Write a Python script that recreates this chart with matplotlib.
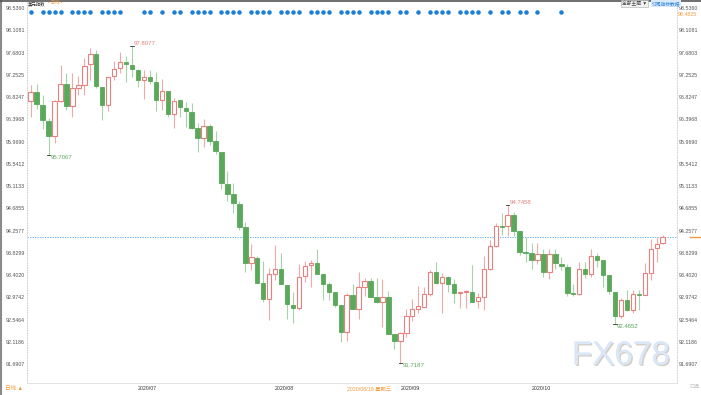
import matplotlib
matplotlib.use("Agg")
import matplotlib.pyplot as plt
import matplotlib.patheffects as pe
from matplotlib.patches import Rectangle
from matplotlib.lines import Line2D
from matplotlib.transforms import blended_transform_factory

plt.rcParams['font.family'] = ['Liberation Sans', 'Noto Sans CJK SC', 'DejaVu Sans']

# daily candles
opens = [96.749, 96.928, 96.678, 96.371, 96.077, 96.749, 97.076, 96.653, 96.993, 97.057,
         97.454, 97.652, 97.024, 96.672, 97.224, 97.383, 97.493, 97.447, 97.345, 97.153,
         97.205, 97.120, 96.769, 96.947, 96.494, 96.769, 96.615, 96.544, 96.225, 96.033,
         96.275, 95.981, 95.775, 95.155, 94.957, 94.770, 94.323, 93.631, 93.739, 93.247,
         92.940, 93.420, 93.516, 93.214, 92.830, 92.767, 93.387, 93.599, 93.631, 93.420,
         93.228, 93.086, 92.824, 92.306, 93.016, 92.748, 93.182, 93.285, 92.984, 92.882,
         92.990, 92.273, 92.144, 92.298, 92.625, 92.759, 92.797, 93.036, 93.458, 93.247,
         93.374, 93.228, 93.055, 93.074, 93.086, 92.907, 92.990, 93.516, 93.964, 94.354,
         94.348, 94.559, 94.246, 93.854, 93.835, 93.695, 93.804, 93.458, 93.804, 93.618,
         93.566, 93.055, 93.036, 93.516, 93.420, 93.777, 93.695, 93.406, 93.086, 92.625,
         92.926, 92.734, 93.041, 93.022, 93.439, 93.919, 94.015]
highs = [97.057, 97.070, 96.865, 96.423, 96.769, 97.447, 97.287, 97.282, 97.230, 97.570,
         97.762, 97.729, 97.024, 97.205, 97.524, 97.685, 97.620, 97.8077, 97.358, 97.345,
         97.345, 97.301, 97.166, 96.947, 96.801, 96.769, 96.736, 96.711, 96.327, 96.398,
         96.298, 96.173, 95.775, 95.410, 95.168, 94.828, 94.430, 94.002, 93.777, 93.675,
         93.547, 93.983, 93.823, 93.214, 93.086, 93.618, 93.681, 93.695, 93.900, 93.420,
         93.278, 93.086, 92.824, 93.055, 93.234, 93.470, 93.343, 93.343, 93.343, 93.324,
         93.099, 92.273, 92.311, 92.747, 92.940, 93.201, 93.170, 93.502, 93.662, 93.451,
         93.387, 93.324, 93.074, 93.118, 93.599, 93.055, 93.771, 94.079, 94.400, 94.592,
         94.7458, 94.623, 94.246, 94.142, 94.027, 94.015, 93.900, 93.900, 93.900, 93.758,
         93.618, 93.234, 93.662, 93.662, 93.900, 93.823, 93.695, 93.406, 93.086, 92.959,
         93.118, 93.118, 93.118, 93.643, 94.092, 94.142, 94.175]
lows = [96.436, 96.596, 96.211, 95.7067, 95.948, 96.730, 96.576, 96.436, 96.865, 96.865,
        97.153, 96.993, 96.384, 96.563, 97.153, 97.282, 97.109, 97.216, 97.024, 96.788,
        97.076, 96.557, 96.576, 96.448, 96.231, 96.436, 96.256, 96.206, 95.775, 95.871,
        95.904, 95.725, 95.053, 94.834, 94.592, 94.271, 93.470, 93.502, 93.253, 92.893,
        92.542, 93.310, 93.228, 92.555, 92.490, 92.734, 93.278, 93.170, 93.426, 92.926,
        92.926, 92.797, 92.125, 92.144, 92.753, 92.561, 93.009, 92.959, 92.863, 92.402,
        92.273, 91.979, 91.7187, 92.210, 92.528, 92.682, 92.786, 93.003, 93.234, 92.682,
        93.074, 92.863, 92.767, 92.767, 92.893, 92.767, 92.734, 93.502, 93.939, 94.175,
        94.161, 94.156, 93.791, 93.662, 93.516, 93.618, 93.362, 93.324, 93.516, 93.502,
        93.003, 93.003, 93.022, 93.343, 93.374, 93.566, 93.182, 93.041, 92.4652, 92.575,
        92.720, 92.671, 92.734, 93.022, 93.310, 93.662, 94.002]
closes = [96.928, 96.692, 96.379, 96.077, 96.749, 97.076, 96.653, 96.993, 97.057, 97.422,
          97.652, 97.037, 96.672, 97.205, 97.370, 97.493, 97.460, 97.358, 97.153, 97.205,
          97.139, 96.769, 96.947, 96.494, 96.755, 96.628, 96.551, 96.225, 96.033, 96.275,
          95.987, 95.789, 95.180, 94.963, 94.784, 94.323, 93.631, 93.746, 93.258, 92.940,
          93.420, 93.516, 93.228, 92.844, 92.778, 93.374, 93.585, 93.643, 93.426, 93.234,
          93.086, 92.830, 92.306, 93.016, 92.753, 93.182, 93.285, 92.990, 92.882, 92.990,
          92.273, 92.144, 92.298, 92.619, 92.753, 92.811, 93.036, 93.458, 93.247, 93.374,
          93.234, 93.055, 93.074, 93.099, 92.893, 92.990, 93.516, 93.964, 94.348, 94.334,
          94.559, 94.258, 93.854, 93.835, 93.695, 93.804, 93.458, 93.804, 93.631, 93.579,
          93.055, 93.036, 93.516, 93.420, 93.777, 93.695, 93.406, 93.099, 92.625, 92.926,
          92.734, 93.041, 93.028, 93.439, 93.900, 94.002, 94.140]

month_idx = [18, 41, 62, 84]
month_labels = ['2020/07', '2020/08', '2020/09', '2020/10']

y_labels = ['98.5360', '98.1081', '97.6803', '97.2525', '96.8247', '96.3968', '95.9690',
            '95.5412', '95.1133', '94.6855', '94.2577', '93.8299', '93.4020', '92.9742',
            '92.5464', '92.1186', '91.6907']

# marked highs / lows: (candle, value, kind)
extremes = [(17, 97.8077, 'high'), (3, 95.7067, 'low'), (62, 91.7187, 'low'),
            (80, 94.7458, 'high'), (98, 92.4652, 'low')]

signal_idx = [0, 2, 3, 4, 5, 7, 8, 9, 10, 12, 13, 14, 15, 19, 20, 22, 24, 25,
              27, 28, 29, 30, 32, 33, 34, 35, 37, 38, 39, 40, 42, 43, 44, 45,
              47, 48, 49, 50, 52, 53, 54, 55, 57, 58, 59, 60, 62, 63, 65,
              67, 68, 69, 70, 72, 73, 74, 75, 77, 79, 80, 82, 83, 85, 89]

cursor_idx = 53
cursor_label = '2020/08/19 星期三'

UP = '#e8807f'
UP_WICK = '#f2a9a9'
DOWN = '#5aa85a'
DOWN_WICK = '#a6d4a6'
ORANGE = '#f39a3c'

W, H = 701, 395
fig = plt.figure(figsize=(W / 100, H / 100), dpi=100)
ax = fig.add_axes([27 / W, 12 / H, 650 / W, 381 / H])

for i, (o, h, l, c) in enumerate(zip(opens, highs, lows, closes)):
    up = c >= o
    ax.vlines(i, l, h, color=UP_WICK if up else DOWN_WICK, lw=0.8, zorder=1)
    bottom = min(o, c)
    height = max(abs(c - o), 0.012)
    if up:
        ax.add_patch(Rectangle((i - 0.37, bottom), 0.74, height, facecolor='white',
                               edgecolor=UP, lw=0.8, zorder=2))
    else:
        ax.add_patch(Rectangle((i - 0.37, bottom), 0.74, height, facecolor=DOWN,
                               edgecolor=DOWN, lw=0.6, zorder=2))

# high / low markers
for i, v, kind in extremes:
    ax.plot([i - 0.3, i + 0.3], [v, v], color='#333333', lw=0.6, zorder=3)
    ax.text(i + 0.35, v, f'{v:.4f}', fontsize=4.3,
            color=UP if kind == 'high' else DOWN,
            va='bottom' if kind == 'high' else 'top', ha='left', zorder=4)

# last price line
ax.axhline(closes[-1], color='#4da3f0', lw=0.6, ls=(0, (1.5, 1.5)), zorder=0)
bt = blended_transform_factory(ax.transAxes, ax.transData)
ax.plot([1.02, 1.04], [closes[-1]] * 2, color=ORANGE, lw=1, transform=bt, clip_on=False)

# signal dots row
tx = blended_transform_factory(ax.transData, ax.transAxes)
ax.scatter(signal_idx, [0.974] * len(signal_idx), s=5, color='#1a7fd6',
           transform=tx, zorder=3, clip_on=False)

ax.set_xlim(-0.62, 108.4)
ax.set_ylim(91.331, 98.651)

ax.set_yticks([float(s) for s in y_labels])
ax.set_yticklabels(y_labels)
ax.tick_params(axis='y', left=True, right=True, labelleft=True, labelright=True,
               length=0, pad=1.5, labelsize=3.8, labelcolor='#555555')
ax.set_xticks(month_idx)
ax.set_xticklabels(month_labels)
ax.tick_params(axis='x', length=0, pad=2.5, labelsize=3.8, labelcolor='#333333')
for lbl in ax.get_xticklabels():
    lbl.set_ha('left')

ax.text(cursor_idx, -6 / 381, cursor_label, transform=tx, fontsize=3.8,
        color=ORANGE, ha='left', va='center',
        bbox=dict(facecolor='white', edgecolor='none', pad=0.5))

ax.spines['top'].set_visible(False)
for side in ['left', 'right']:
    ax.spines[side].set_color('#c8c8c8')
    ax.spines[side].set_linestyle((0, (1, 2)))
    ax.spines[side].set_linewidth(0.6)
ax.spines['bottom'].set_color('#dddddd')
ax.spines['bottom'].set_linewidth(0.6)

# frame borders
fig.add_artist(Line2D([1 / W, 1 / W], [0, 1], transform=fig.transFigure,
                      color='#8a8a8a', lw=1.5))
fig.add_artist(Line2D([0, 1], [1 - 0.7 / H] * 2, transform=fig.transFigure,
                      color='#555555', lw=1.2))

# header texts
fig.text(28 / W, 1 - 3.5 / H, '美元指数', fontsize=3.2, color='#222222', va='center')
fig.text(47.5 / W, 1 - 3.5 / H, '• 日线 •', fontsize=3.2, color=ORANGE, va='center')
fig.text(622 / W, 1 - 3.5 / H, '全部主题 ▼', fontsize=3.4, color='#444444', va='center',
         bbox=dict(facecolor='#f2f2f2', edgecolor='#aaaaaa', lw=0.4, pad=0.6))
fig.text(652 / W, 1 - 3.5 / H, '订阅指标数据', fontsize=3.4, color='#2a7fd0', va='center',
         bbox=dict(facecolor='#d8eafc', edgecolor='none', pad=0.6))
fig.text(678 / W, 1 - 14 / H, '98.4825', fontsize=3.8, color=ORANGE, va='center')
fig.text(5 / W, 1 - 389 / H, '日线 ▲', fontsize=4, color=ORANGE, va='center')

# watermarks
fig.text(621 / W, 1 - 356 / H, 'FX678', fontsize=24, color='#dbe7f7',
         ha='center', va='center',
         path_effects=[pe.withSimplePatchShadow(offset=(1, -1),
                                                shadow_rgbFace='#b8ae9e', alpha=0.6),
                       pe.Normal()])
fig.text(694 / W, 1 - 386 / H, '汇通', fontsize=4, color='#c8c8c8',
         ha='center', va='center')

fig.savefig('out.png', dpi=100, facecolor='white')
